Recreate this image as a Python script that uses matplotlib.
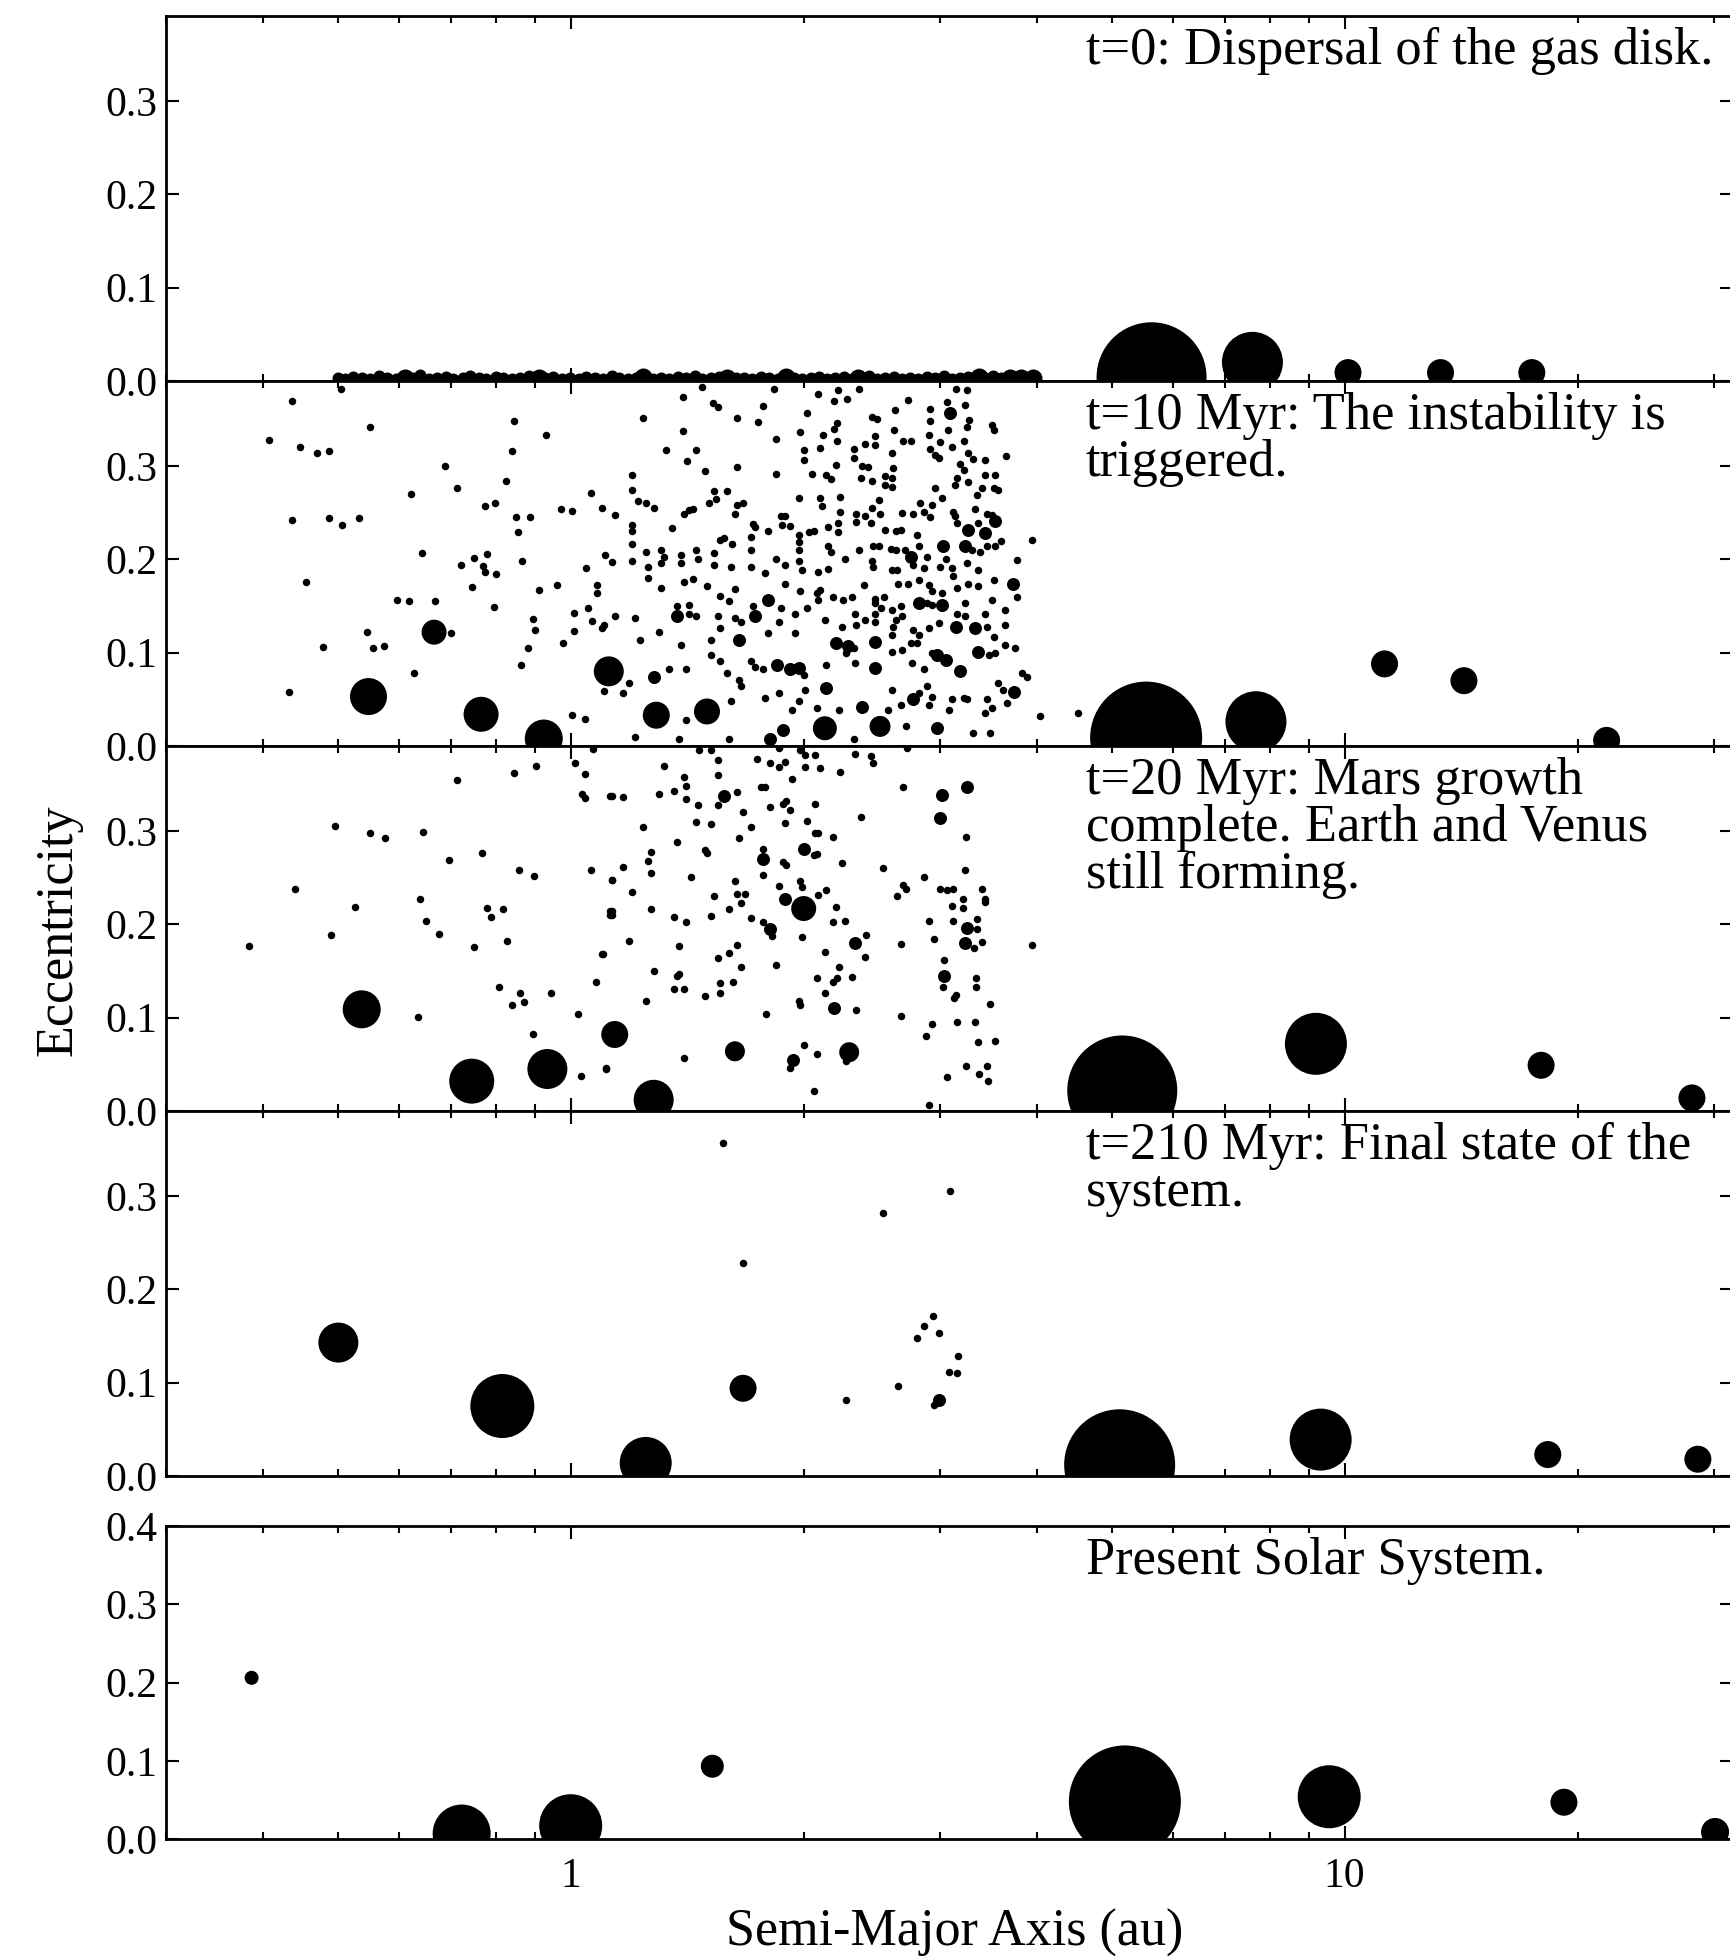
import numpy as np
import matplotlib
matplotlib.use('Agg')
import matplotlib.pyplot as plt
from matplotlib.ticker import FuncFormatter, NullFormatter, FormatStrFormatter

plt.rcParams['font.family'] = ['Liberation Serif', 'DejaVu Serif']

# ---------------- data: semi-major axis (au), eccentricity ----------------
# marker diameters are in pixels of the final image

# panel 1 : t=0, the disk of embryos/planetesimals lying on e ~ 0
p1_band_a = [0.500, 0.511, 0.524, 0.537, 0.551, 0.566, 0.579, 0.595, 0.608, 0.625,
             0.639, 0.657, 0.671, 0.690, 0.705, 0.725, 0.741, 0.761, 0.778, 0.800,
             0.818, 0.840, 0.859, 0.883, 0.903, 0.927, 0.949, 0.974, 0.997, 1.024,
             1.047, 1.075, 1.100, 1.130, 1.156, 1.187, 1.215, 1.247, 1.276, 1.310,
             1.341, 1.376, 1.409, 1.446, 1.480, 1.519, 1.555, 1.596, 1.634, 1.677,
             1.717, 1.762, 1.804, 1.851, 1.895, 1.944, 1.991, 2.043, 2.092, 2.146,
             2.198, 2.255, 2.309, 2.369, 2.426, 2.489, 2.549, 2.615, 2.678, 2.747,
             2.814, 2.886, 2.956, 3.032, 3.106, 3.186, 3.263, 3.347, 3.428, 3.516,
             3.602, 3.694, 3.784, 3.881]
p1_band_e = [0.003, 0.002, 0.004, 0.003, 0.002, 0.005, 0.003, 0.002, 0.004, 0.003,
             0.006, 0.002, 0.003, 0.004, 0.002, 0.003, 0.005, 0.003, 0.002, 0.004,
             0.003, 0.002, 0.003, 0.005, 0.002, 0.003, 0.004, 0.002, 0.003, 0.002,
             0.004, 0.003, 0.002, 0.005, 0.003, 0.002, 0.003, 0.004, 0.002, 0.003,
             0.002, 0.004, 0.003, 0.005, 0.002, 0.003, 0.004, 0.002, 0.003, 0.003,
             0.002, 0.004, 0.003, 0.002, 0.005, 0.003, 0.002, 0.003, 0.004, 0.002,
             0.003, 0.004, 0.002, 0.003, 0.005, 0.002, 0.003, 0.004, 0.002, 0.003,
             0.002, 0.004, 0.003, 0.005, 0.002, 0.003, 0.004, 0.002, 0.003, 0.005,
             0.003, 0.004, 0.002, 0.003]
p1_emb_a = [0.61, 0.91, 1.24, 1.59, 1.90, 2.35, 3.37, 3.69, 3.82, 3.96]
p1_emb_e = [0.003, 0.003, 0.004, 0.003, 0.004, 0.003, 0.004, 0.003, 0.003, 0.003]
p1_big = [(5.63, 0.004, 110), (7.60, 0.020, 61), (10.1, 0.009, 27),
          (13.3, 0.009, 27), (17.45, 0.009, 27)]

# panel 2 : t=10 Myr
p2_small = [
    (0.408, 0.328), (0.436, 0.370), (0.447, 0.321), (0.470, 0.314), (0.487, 0.316),
    (0.505, 0.383), (0.551, 0.342), (0.436, 0.242), (0.487, 0.244), (0.507, 0.237),
    (0.532, 0.244), (0.455, 0.176), (0.433, 0.058), (0.478, 0.106), (0.546, 0.122),
    (0.556, 0.105), (0.573, 0.107), (0.621, 0.270), (0.642, 0.207), (0.597, 0.156),
    (0.618, 0.155), (0.667, 0.155), (0.700, 0.121), (0.628, 0.078), (0.689, 0.300),
    (0.714, 0.276), (0.775, 0.257), (0.798, 0.260), (0.824, 0.284), (0.841, 0.316),
    (0.846, 0.348), (0.929, 0.333), (0.849, 0.245), (0.885, 0.245), (0.854, 0.229),
    (0.864, 0.198), (0.721, 0.194), (0.750, 0.202), (0.770, 0.193), (0.776, 0.186),
    (0.779, 0.206), (0.801, 0.184), (0.745, 0.170), (0.796, 0.149), (0.910, 0.167),
    (0.961, 0.173), (0.893, 0.136), (0.899, 0.124), (0.881, 0.105), (0.863, 0.087),
    (0.978, 0.110), (1.011, 0.143), (1.009, 0.123), (1.047, 0.191), (1.081, 0.173),
    (1.081, 0.164), (1.052, 0.148), (1.064, 0.134), (1.097, 0.127), (1.104, 0.130),
    (1.106, 0.205), (1.130, 0.197), (1.063, 0.271), (1.097, 0.255), (0.971, 0.254),
    (1.003, 0.252), (1.005, 0.033), (1.044, 0.029), (1.104, 0.059), (1.14, 0.248),
    (1.14, 0.139),
    (1.48, 0.385), (1.83, 0.383), (2.215, 0.382), (2.36, 0.383), (3.15, 0.383),
    (3.25, 0.382), (1.398, 0.374), (2.086, 0.377), (2.276, 0.372), (2.19, 0.370),
    (2.73, 0.371), (3.06, 0.369), (3.23, 0.366), (1.525, 0.368), (1.548, 0.363),
    (1.77, 0.364), (2.017, 0.357), (2.626, 0.360), (2.914, 0.361), (1.24, 0.352),
    (1.641, 0.352), (1.745, 0.347), (2.45, 0.353), (2.487, 0.350), (2.914, 0.348),
    (3.275, 0.349), (3.50, 0.344), (3.25, 0.342), (2.21, 0.346), (2.19, 0.340),
    (1.395, 0.338), (1.98, 0.337), (2.62, 0.339), (2.12, 0.333), (3.077, 0.339),
    (3.52, 0.339), (1.84, 0.329), (2.21, 0.327), (2.40, 0.324), (2.47, 0.332),
    (2.69, 0.327), (2.75, 0.327), (2.90, 0.333), (3.00, 0.326), (3.22, 0.327),
    (1.327, 0.317), (1.45, 0.317), (2.00, 0.317), (2.10, 0.319), (2.32, 0.318),
    (2.47, 0.323), (2.60, 0.314), (3.11, 0.321), (2.91, 0.318), (2.96, 0.312),
    (2.99, 0.309), (3.26, 0.314), (3.65, 0.311), (2.00, 0.307), (2.32, 0.309),
    (1.415, 0.305), (3.43, 0.307), (3.18, 0.302), (3.31, 0.308), (2.20, 0.301),
    (2.38, 0.300), (2.42, 0.299), (1.64, 0.299), (1.49, 0.295), (1.84, 0.292),
    (2.05, 0.291), (2.14, 0.290), (2.17, 0.286), (2.61, 0.298), (2.55, 0.289),
    (2.60, 0.287), (3.22, 0.296), (3.43, 0.290), (3.53, 0.290), (2.37, 0.287),
    (2.45, 0.284), (3.16, 0.287), (3.26, 0.283), (1.20, 0.290), (3.14, 0.280),
    (2.96, 0.276), (3.40, 0.277), (3.52, 0.276), (3.57, 0.274), (1.53, 0.273),
    (1.59, 0.273), (1.54, 0.265), (1.20, 0.274), (1.22, 0.263), (2.55, 0.280),
    (2.60, 0.278), (3.35, 0.269), (3.02, 0.266), (1.97, 0.266), (2.10, 0.266),
    (2.23, 0.267), (2.50, 0.264), (1.25, 0.260), (1.28, 0.255), (1.67, 0.260),
    (1.64, 0.258), (1.63, 0.249), (1.51, 0.260), (1.40, 0.249), (1.42, 0.253),
    (1.44, 0.254), (3.12, 0.251), (3.33, 0.254), (3.45, 0.249), (2.83, 0.260),
    (2.93, 0.258), (2.86, 0.251), (2.77, 0.249), (2.91, 0.245), (2.11, 0.257),
    (2.23, 0.251), (2.34, 0.249), (2.45, 0.255), (2.40, 0.246), (2.51, 0.249),
    (2.68, 0.250), (1.20, 0.237), (1.20, 0.230), (1.35, 0.234), (1.72, 0.238),
    (1.73, 0.235), (1.80, 0.230), (1.87, 0.246), (1.89, 0.246), (1.876, 0.237),
    (1.92, 0.236), (1.97, 0.226), (2.03, 0.229), (2.06, 0.230), (2.15, 0.235),
    (2.215, 0.239), (2.215, 0.229), (2.34, 0.240), (2.44, 0.239), (2.55, 0.232),
    (2.63, 0.230), (2.67, 0.232), (2.80, 0.226), (3.14, 0.246), (3.16, 0.239),
    (3.36, 0.239), (3.50, 0.248), (1.20, 0.217), (1.25, 0.208), (1.31, 0.210),
    (1.32, 0.203), (1.39, 0.205), (1.45, 0.210), (1.53, 0.207), (1.56, 0.221),
    (1.58, 0.223), (1.617, 0.217), (1.71, 0.224), (1.71, 0.210), (1.97, 0.219),
    (1.97, 0.210), (2.15, 0.214), (2.17, 0.208), (2.26, 0.200), (2.36, 0.210),
    (2.46, 0.214), (2.50, 0.214), (2.59, 0.211), (2.63, 0.210), (2.70, 0.210),
    (2.82, 0.214), (2.89, 0.203), (3.30, 0.210), (3.38, 0.208), (3.45, 0.214),
    (3.53, 0.214), (3.60, 0.220), (3.94, 0.221), (3.05, 0.200), (1.20, 0.198),
    (1.26, 0.192), (1.31, 0.196), (1.39, 0.196), (1.46, 0.200), (1.53, 0.194),
    (1.61, 0.192), (1.71, 0.192), (1.84, 0.200), (1.89, 0.194), (1.97, 0.198),
    (1.99, 0.189), (2.09, 0.187), (2.15, 0.190), (2.45, 0.198), (2.46, 0.192),
    (2.60, 0.189), (2.64, 0.189), (2.77, 0.194), (2.86, 0.191), (3.00, 0.192),
    (3.11, 0.191), (3.12, 0.182), (3.36, 0.189), (3.25, 0.196), (3.77, 0.199),
    (1.26, 0.180), (1.31, 0.169), (1.40, 0.176), (1.44, 0.179), (1.50, 0.171),
    (1.56, 0.161), (1.63, 0.168), (1.785, 0.185), (1.89, 0.174), (1.98, 0.166),
    (2.08, 0.164), (2.10, 0.167), (2.18, 0.160), (2.25, 0.156), (2.31, 0.160),
    (2.39, 0.173), (2.47, 0.158), (2.54, 0.160), (2.65, 0.174), (2.73, 0.174),
    (2.82, 0.178), (2.90, 0.173), (2.93, 0.166), (3.02, 0.164), (3.16, 0.169),
    (3.26, 0.174), (3.36, 0.171), (3.52, 0.178), (3.77, 0.160), (3.50, 0.157),
    (1.21, 0.137), (1.37, 0.150), (1.42, 0.151), (1.42, 0.142), (1.45, 0.139),
    (1.55, 0.139), (1.60, 0.155), (1.63, 0.137), (1.66, 0.133), (1.72, 0.150),
    (1.87, 0.148), (1.95, 0.141), (2.02, 0.148), (2.09, 0.157), (2.33, 0.141),
    (2.40, 0.135), (2.47, 0.153), (2.47, 0.142), (2.52, 0.148), (2.60, 0.146),
    (2.67, 0.150), (2.89, 0.153), (2.93, 0.151), (3.16, 0.142), (3.23, 0.153),
    (3.43, 0.142), (3.64, 0.146), (2.63, 0.135), (1.23, 0.114), (1.30, 0.122),
    (1.39, 0.108), (1.52, 0.114), (1.56, 0.126), (1.80, 0.121), (1.86, 0.133),
    (1.95, 0.121), (2.13, 0.135), (2.24, 0.128), (2.34, 0.130), (2.47, 0.133),
    (2.61, 0.128), (2.68, 0.139), (2.77, 0.124), (2.90, 0.126), (2.99, 0.132),
    (3.23, 0.139), (3.45, 0.128), (3.52, 0.117), (3.64, 0.130), (2.60, 0.119),
    (2.82, 0.119), (1.34, 0.082), (1.41, 0.082), (1.52, 0.098), (1.56, 0.091),
    (1.59, 0.078), (1.65, 0.071), (1.71, 0.091), (1.73, 0.085), (1.77, 0.082),
    (2.00, 0.076), (2.14, 0.087), (2.32, 0.105), (2.27, 0.100), (2.33, 0.089),
    (2.60, 0.101), (2.68, 0.103), (2.75, 0.110), (2.80, 0.110), (2.76, 0.089),
    (2.86, 0.082), (2.93, 0.100), (3.47, 0.098), (3.53, 0.100), (3.64, 0.108),
    (3.75, 0.105), (3.83, 0.078), (3.89, 0.074), (1.19, 0.067), (1.17, 0.057),
    (1.41, 0.028), (1.61, 0.048), (1.66, 0.064), (1.78, 0.051), (1.86, 0.057),
    (1.93, 0.039), (1.97, 0.048), (2.01, 0.060), (2.08, 0.041), (2.22, 0.039),
    (2.57, 0.039), (2.60, 0.060), (2.67, 0.044), (2.71, 0.021), (2.82, 0.057),
    (2.89, 0.064), (2.90, 0.044), (2.93, 0.053), (3.08, 0.039), (3.11, 0.050),
    (3.22, 0.051), (3.25, 0.050), (3.45, 0.050), (3.50, 0.041), (3.57, 0.067),
    (3.62, 0.060), (3.66, 0.046), (3.31, 0.014), (3.48, 0.014), (3.43, 0.035),
    (1.21, 0.010), (1.38, 0.008), (1.60, 0.008), (2.32, 0.008), (4.04, 0.032),
    (4.53, 0.035)]
p2_medium = [
    (3.09, 0.357), (3.26, 0.232), (3.43, 0.228), (3.53, 0.241), (2.75, 0.203),
    (3.03, 0.214), (3.23, 0.214), (3.73, 0.174), (1.37, 0.139), (1.73, 0.139),
    (1.80, 0.157), (2.82, 0.153), (3.02, 0.151), (3.15, 0.128), (3.33, 0.126),
    (1.28, 0.074), (1.85, 0.087), (1.92, 0.082), (1.97, 0.084), (2.20, 0.110),
    (2.28, 0.107), (2.47, 0.112), (2.47, 0.084), (2.97, 0.098), (3.05, 0.092),
    (3.18, 0.080), (3.36, 0.101), (2.14, 0.062), (2.38, 0.042), (2.77, 0.050),
    (2.97, 0.019), (3.74, 0.058), (1.81, 0.007), (1.88, 0.017), (1.65, 0.114)]
p2_big = [(0.548, 0.053, 37), (0.666, 0.122, 25), (0.766, 0.034, 35),
          (0.923, 0.008, 38), (1.12, 0.080, 30), (1.29, 0.033, 27),
          (1.50, 0.037, 26), (2.13, 0.019, 24), (2.51, 0.021, 21),
          (5.54, 0.009, 112), (7.68, 0.026, 61), (11.26, 0.088, 27),
          (14.26, 0.070, 27), (21.8, 0.006, 27)]

# panel 3 : t=20 Myr
p3_small = [
    (0.496, 0.305), (0.551, 0.298), (0.575, 0.293), (0.644, 0.299), (0.714, 0.355),
    (0.696, 0.269), (0.768, 0.277), (0.846, 0.362), (0.902, 0.370), (1.014, 0.373),
    (1.042, 0.361), (1.035, 0.340), (1.045, 0.335), (1.07, 0.388), (1.125, 0.338),
    (0.857, 0.258), (0.897, 0.252), (1.062, 0.258), (1.13, 0.248), (0.440, 0.238),
    (0.526, 0.219), (0.638, 0.227), (0.651, 0.204), (0.779, 0.218), (0.817, 0.216),
    (0.789, 0.208), (0.490, 0.189), (0.675, 0.190), (0.751, 0.176), (0.827, 0.182),
    (1.125, 0.214), (1.125, 0.210), (1.096, 0.168), (0.384, 0.177), (0.809, 0.133),
    (0.860, 0.127), (0.840, 0.114), (0.871, 0.117), (0.942, 0.126), (1.077, 0.138),
    (1.021, 0.104), (0.634, 0.101), (0.893, 0.082), (1.11, 0.045), (1.03, 0.037),
    (1.465, 0.387), (1.52, 0.387), (1.86, 0.389), (1.98, 0.387), (2.01, 0.382),
    (2.07, 0.382), (2.33, 0.383), (2.44, 0.381), (2.46, 0.373), (2.72, 0.389),
    (1.32, 0.370), (1.40, 0.358), (1.41, 0.348), (1.55, 0.376), (1.55, 0.360),
    (1.74, 0.377), (1.81, 0.373), (1.86, 0.369), (1.89, 0.374), (2.01, 0.369),
    (2.10, 0.368), (2.23, 0.363), (1.93, 0.356), (1.76, 0.347), (1.78, 0.347),
    (1.13, 0.338), (1.17, 0.337), (1.30, 0.340), (1.36, 0.343), (1.41, 0.334),
    (1.46, 0.328), (1.64, 0.342), (1.55, 0.328), (1.67, 0.320), (1.81, 0.326),
    (1.88, 0.329), (1.90, 0.332), (1.92, 0.323), (2.07, 0.329), (1.89, 0.309),
    (2.02, 0.311), (2.37, 0.315), (2.69, 0.347), (1.24, 0.304), (1.45, 0.310),
    (1.52, 0.308), (1.71, 0.304), (2.07, 0.298), (2.09, 0.298), (2.18, 0.294),
    (1.65, 0.293), (1.37, 0.288), (1.49, 0.280), (1.50, 0.276), (1.77, 0.281),
    (2.06, 0.274), (2.08, 0.275), (1.88, 0.267), (1.90, 0.264), (2.24, 0.266),
    (2.53, 0.260), (3.24, 0.294), (3.23, 0.258), (1.27, 0.278), (1.26, 0.268),
    (1.27, 0.255), (1.17, 0.261), (1.43, 0.251), (1.77, 0.253), (1.13, 0.248),
    (1.63, 0.247), (1.86, 0.241), (1.98, 0.246), (1.99, 0.240), (2.14, 0.237),
    (2.09, 0.232), (2.86, 0.251), (2.69, 0.242), (2.71, 0.238), (2.64, 0.230),
    (3.00, 0.238), (3.06, 0.237), (3.12, 0.238), (3.40, 0.238), (3.43, 0.227),
    (1.20, 0.235), (1.53, 0.230), (1.64, 0.233), (1.68, 0.233), (1.66, 0.223),
    (3.11, 0.220), (3.21, 0.227), (3.21, 0.218), (3.43, 0.224), (1.13, 0.214),
    (1.13, 0.210), (1.27, 0.217), (1.36, 0.208), (1.41, 0.203), (1.52, 0.209),
    (1.60, 0.216), (1.71, 0.207), (1.77, 0.203), (1.82, 0.188), (2.20, 0.219),
    (2.18, 0.203), (2.26, 0.204), (2.90, 0.204), (3.12, 0.204), (3.35, 0.206),
    (3.35, 0.195), (1.19, 0.182), (1.38, 0.177), (1.99, 0.186), (2.41, 0.189),
    (2.67, 0.179), (2.95, 0.184), (3.32, 0.175), (3.40, 0.181), (3.94, 0.178),
    (1.10, 0.168), (1.55, 0.164), (1.60, 0.169), (1.64, 0.178), (1.84, 0.157),
    (2.13, 0.170), (2.40, 0.165), (3.04, 0.162), (1.28, 0.150), (1.38, 0.147),
    (1.37, 0.145), (1.66, 0.154), (2.08, 0.143), (2.22, 0.154), (2.21, 0.143),
    (2.18, 0.138), (2.31, 0.144), (3.03, 0.133), (3.34, 0.143), (3.34, 0.133),
    (1.36, 0.131), (1.40, 0.131), (1.56, 0.137), (1.56, 0.127), (1.62, 0.138),
    (1.49, 0.123), (2.13, 0.127), (3.15, 0.124), (3.13, 0.121), (1.25, 0.118),
    (1.97, 0.118), (1.98, 0.114), (1.79, 0.104), (2.34, 0.108), (2.67, 0.102),
    (3.48, 0.115), (2.93, 0.093), (2.88, 0.080), (3.16, 0.095), (3.33, 0.095),
    (3.36, 0.074), (3.53, 0.075), (1.40, 0.057), (1.11, 0.046), (2.00, 0.071),
    (1.92, 0.046), (2.08, 0.061), (2.27, 0.054), (2.06, 0.021), (3.24, 0.048),
    (3.37, 0.040), (3.45, 0.048), (3.46, 0.032), (3.06, 0.036), (2.90, 0.006)]
p3_medium = [
    (1.58, 0.338), (1.77, 0.270), (2.00, 0.281), (3.02, 0.339), (3.25, 0.347),
    (3.00, 0.314), (1.89, 0.227), (1.81, 0.195), (3.25, 0.196), (2.33, 0.180),
    (3.23, 0.180), (3.04, 0.145), (2.19, 0.110), (1.94, 0.055)]
p3_big = [(0.537, 0.109, 38), (0.745, 0.032, 45), (0.933, 0.045, 40),
          (1.14, 0.082, 27), (1.28, 0.012, 40), (1.63, 0.064, 20),
          (2.00, 0.217, 25), (2.29, 0.063, 20),
          (5.16, 0.022, 110), (9.18, 0.072, 62), (17.94, 0.049, 27),
          (28.1, 0.014, 27)]

# panel 4 : t=210 Myr
p4_small = [
    (1.573, 0.357), (1.67, 0.228), (3.09, 0.306), (2.53, 0.282), (2.94, 0.171),
    (2.86, 0.161), (2.99, 0.153), (2.80, 0.148), (3.17, 0.129), (3.08, 0.111),
    (3.16, 0.110), (2.65, 0.096), (2.27, 0.081), (2.95, 0.076)]
p4_medium = [(2.99, 0.081)]
p4_big = [(0.501, 0.143, 40), (0.816, 0.075, 64), (1.25, 0.014, 52),
          (1.67, 0.094, 27), (5.12, 0.012, 111), (9.31, 0.039, 62),
          (18.3, 0.023, 27), (28.6, 0.018, 27)]

# panel 5 : present Solar System (Mercury ... Neptune)
ss_a = [0.387, 0.723, 1.000, 1.524, 5.20, 9.55, 19.2, 30.1]
ss_e = [0.206, 0.007, 0.017, 0.093, 0.048, 0.054, 0.047, 0.009]
ss_d = [14, 58, 63, 23, 112, 63, 27, 28]

labels = [["t=0: Dispersal of the gas disk."],
          ["t=10 Myr: The instability is", "triggered."],
          ["t=20 Myr: Mars growth", "complete. Earth and Venus", "still forming."],
          ["t=210 Myr: Final state of the", "system."],
          ["Present Solar System."]]

# ---------------- figure ----------------
DPI = 100
W, H = 1731, 1957
fig = plt.figure(figsize=(W / DPI, H / DPI), dpi=DPI)


def s_of(d):
    # pixel diameter -> scatter area in points^2
    return (np.asarray(d, dtype=float) * 72.0 / DPI) ** 2


def style(ax, ymax, yticks, bottom_labels):
    ax.set_xscale('log')
    ax.set_xlim(0.3, 31.75)
    ax.set_ylim(0, ymax)
    ax.set_yticks(yticks)
    ax.yaxis.set_major_formatter(FormatStrFormatter('%.1f'))
    ax.xaxis.set_major_formatter(FuncFormatter(lambda v, p: '%g' % v))
    ax.xaxis.set_minor_formatter(NullFormatter())
    ax.tick_params(which='both', direction='in', top=True, right=True, width=1.5)
    ax.tick_params(which='major', length=9.5)
    ax.tick_params(which='minor', length=5)
    ax.tick_params(axis='y', which='minor', left=False, right=False)
    ax.tick_params(axis='y', labelsize=30, pad=6)
    ax.tick_params(axis='x', labelsize=30, pad=13, labelbottom=bottom_labels)
    for sp in ax.spines.values():
        sp.set_linewidth(2)


def draw_pts(ax, pts, d):
    a, e = np.array(pts).T
    ax.scatter(a, e, s=s_of(d), c='black', linewidths=0)


def draw_big(ax, pts):
    a, e, d = np.array(pts).T
    ax.scatter(a, e, s=s_of(d), c='black', linewidths=0)


left = 166 / W
width = (1733 - 166) / W
panel_h = 365
axes = []
for i in range(4):
    top = 16 + i * panel_h
    ax = fig.add_axes([left, 1 - (top + panel_h) / H, width, panel_h / H])
    style(ax, panel_h / 933.0, [0.0, 0.1, 0.2, 0.3], False)
    axes.append(ax)
ax5 = fig.add_axes([left, 1 - 1839 / H, width, 313 / H])
style(ax5, 0.4, [0.0, 0.1, 0.2, 0.3, 0.4], True)
axes.append(ax5)

# panel 1
ax = axes[0]
ax.scatter(p1_band_a, p1_band_e, s=s_of(12), c='black', linewidths=0)
ax.scatter(p1_emb_a, p1_emb_e, s=s_of(18), c='black', linewidths=0)
draw_big(ax, p1_big)

# panel 2
draw_pts(axes[1], p2_small, 7.5)
draw_pts(axes[1], p2_medium, 13)
draw_big(axes[1], p2_big)

# panel 3
draw_pts(axes[2], p3_small, 7.5)
draw_pts(axes[2], p3_medium, 13)
draw_big(axes[2], p3_big)

# panel 4
draw_pts(axes[3], p4_small, 7.5)
draw_pts(axes[3], p4_medium, 13)
draw_big(axes[3], p4_big)

# panel 5
ax5.scatter(ss_a, ss_e, s=s_of(ss_d), c='black', linewidths=0)

# panel captions, one text per line (baselines 48 px below the top, 47 px apart)
tx = (1086 - 166) / (1733 - 166)
for i, ax in enumerate(axes):
    h = panel_h if i < 4 else 313
    for k, line in enumerate(labels[i]):
        ax.text(tx, 1 - (48 + 47 * k) / h, line, transform=ax.transAxes,
                ha='left', va='baseline', fontsize=37.8)

fig.text(59 / W, 1 - 930 / H, 'Eccentricity', rotation=90,
         ha='center', va='center', fontsize=37.5)
fig.text(955 / W, 1 - 1946 / H, 'Semi-Major Axis (au)',
         ha='center', va='baseline', fontsize=37.5)

fig.savefig('out.png', dpi=DPI)
